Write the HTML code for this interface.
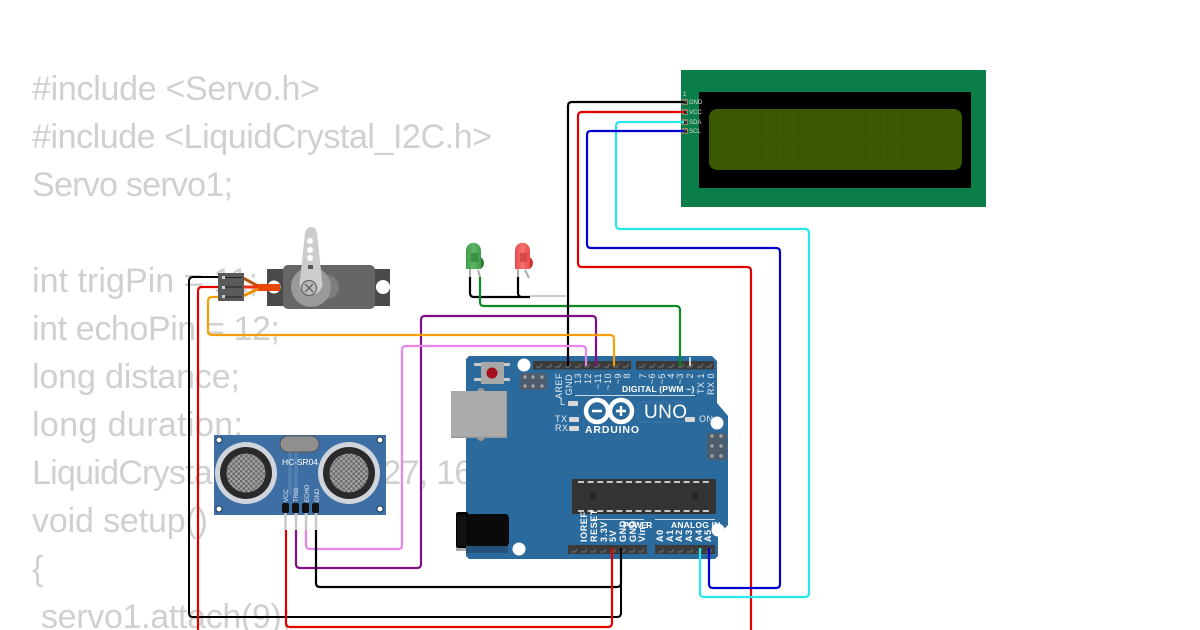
<!DOCTYPE html>
<html><head><meta charset="utf-8"><style>
html,body{margin:0;padding:0;background:#fff;width:1200px;height:630px;overflow:hidden}
svg{display:block}
.c{font-family:"Liberation Sans",sans-serif;font-size:34px;fill:#d0d0d0}
.w{fill:none;stroke-width:2.2;stroke-linejoin:round}
.l{font-family:"Liberation Sans",sans-serif;font-size:9px;fill:#e6edf3;letter-spacing:.5px}
.t{font-family:"Liberation Sans",sans-serif;font-size:9px;fill:#e6edf3;letter-spacing:.5px;text-anchor:end}
.u{font-family:"Liberation Sans",sans-serif;font-size:9px;font-weight:bold;fill:#fff;letter-spacing:.6px}
.b{font-family:"Liberation Sans",sans-serif;font-size:8.5px;font-weight:bold;fill:#fff;letter-spacing:.7px}
.p{font-family:"Liberation Sans",sans-serif;font-size:6px;fill:#ddd}
.s{font-family:"Liberation Sans",sans-serif;font-size:6px;fill:#eee}
</style></head><body>
<svg width="1200" height="630" viewBox="0 0 1200 630" xmlns="http://www.w3.org/2000/svg">
<defs>
<pattern id="m" width="5" height="5" patternUnits="userSpaceOnUse"><rect width="5" height="5" fill="#a2a2a2"/><rect width="2.500" height="2.500" fill="#6c6c6c"/><rect x="2.500" y="2.500" width="2.500" height="2.500" fill="#6c6c6c"/></pattern>
<linearGradient id="g" x1="0" x2="1" y1="0" y2="0"><stop offset="0" stop-color="#3f9b4a"/><stop offset=".5" stop-color="#5cb566"/><stop offset="1" stop-color="#3f9b4a"/></linearGradient>
<linearGradient id="r" x1="0" x2="1" y1="0" y2="0"><stop offset="0" stop-color="#e94a4a"/><stop offset=".5" stop-color="#f47272"/><stop offset="1" stop-color="#e94a4a"/></linearGradient>
</defs>
<!-- code -->
<text class="c" x="32" y="100" textLength="288">#include &lt;Servo.h&gt;</text>
<text class="c" x="32" y="148" textLength="460">#include &lt;LiquidCrystal_I2C.h&gt;</text>
<text class="c" x="32" y="196" textLength="201">Servo servo1;</text>
<text class="c" x="32" y="292" textLength="226">int trigPin = 11;</text>
<text class="c" x="32" y="340" textLength="248">int echoPin = 12;</text>
<text class="c" x="32" y="388" textLength="208">long distance;</text>
<text class="c" x="32" y="436" textLength="211">long duration;</text>
<text class="c" x="32" y="484" textLength="496">LiquidCrystal_I2C lcd(0x27, 16, 2);</text>
<text class="c" x="32" y="532" textLength="176">void setup()</text>
<text class="c" x="32" y="580">{</text>
<text class="c" x="41" y="628" textLength="250">servo1.attach(9);</text>

<!-- LCD -->
<rect x="681" y="70" width="305" height="137" fill="#0a7d48"/>
<rect x="699" y="92" width="272" height="96" fill="#000"/>
<rect x="709" y="109" width="253" height="61" rx="8" fill="#395800"/>
<g stroke="#406304" stroke-width=".8" fill="none">
<path d="M728 112V167M741 112V167M754 112V167M767 112V167M780 112V167M793 112V167M806 112V167M819 112V167M832 112V167M845 112V167M858 112V167M871 112V167M884 112V167M897 112V167M910 112V167M923 112V167M936 112V167M728 140H945"/>
</g>
<g fill="#8a8a6a"><rect x="682" y="99" width="6" height="6"/><rect x="682" y="109" width="6" height="6"/><rect x="682" y="119" width="6" height="6"/><rect x="682" y="128" width="6" height="6"/></g>
<text class="p" x="683" y="96">1</text>
<text class="p" x="689" y="104">GND</text>
<text class="p" x="689" y="114">VCC</text>
<text class="p" x="689" y="124">SDA</text>
<text class="p" x="689" y="133">SCL</text>

<!-- Arduino -->
<path d="M469 356H712L717 361V403L728 416V525L718 535V556L715 559H469L466 556V359Z" fill="#2b6a9d"/>
<circle cx="524" cy="365" r="6.500" fill="#fff"/>
<circle cx="717" cy="423" r="6.500" fill="#fff"/>
<circle cx="718" cy="530" r="6.500" fill="#fff"/>
<circle cx="519" cy="549" r="6.500" fill="#fff"/>
<!-- reset -->
<g fill="#c9c9c9"><rect x="474" y="363" width="36" height="3"/><rect x="474" y="378" width="36" height="3"/></g>
<rect x="481" y="362" width="23" height="22" fill="#a8a8a8"/>
<circle cx="492" cy="373" r="5.500" fill="#a3101c"/>
<!-- ICSP -->
<rect x="520" y="373" width="27" height="17" rx="2" fill="#4d5d6e"/>
<g fill="#a5a5a5"><circle cx="525" cy="377" r="1.700"/><circle cx="533" cy="377" r="1.700"/><circle cx="542" cy="377" r="1.700"/><circle cx="525" cy="386" r="1.700"/><circle cx="533" cy="386" r="1.700"/><circle cx="542" cy="386" r="1.700"/></g>
<rect x="707" y="433" width="20" height="27" rx="2" fill="#4d5d6e"/>
<g fill="#a5a5a5"><circle cx="712" cy="436" r="1.700"/><circle cx="721" cy="436" r="1.700"/><circle cx="712" cy="446" r="1.700"/><circle cx="721" cy="446" r="1.700"/><circle cx="712" cy="456" r="1.700"/><circle cx="721" cy="456" r="1.700"/></g>
<!-- USB -->
<circle cx="481" cy="392" r="4" fill="#999"/><circle cx="481" cy="437" r="4" fill="#999"/>
<rect x="451" y="391" width="56" height="47" fill="#999"/>
<rect x="451" y="391" width="55" height="45.500" fill="#ababab"/>
<!-- headers -->
<g fill="#3b3b3b">
<rect x="533" y="361" width="98" height="8.500"/><rect x="636" y="361" width="78" height="8.500"/>
<rect x="568" y="545" width="79" height="9"/><rect x="655" y="545" width="60" height="9"/>
</g>
<g stroke="#6a6a6a" stroke-width="1.200" fill="none">
<path d="M536 367h4l2-3M546 367h4l2-3M555 367h4l2-3M565 367h4l2-3M575 367h4l2-3M584 367h4l2-3M594 367h4l2-3M604 367h4l2-3M613 367h4l2-3M623 367h4l2-3"/>
<path d="M639 367h4l2-3M649 367h4l2-3M658 367h4l2-3M668 367h4l2-3M678 367h4l2-3M687 367h4l2-3M697 367h4l2-3M706 367h4l2-3"/>
<path d="M571 552h4l2-3M581 552h4l2-3M590 552h4l2-3M600 552h4l2-3M610 552h4l2-3M619 552h4l2-3M629 552h4l2-3M638 552h4l2-3"/>
<path d="M658 552h4l2-3M668 552h4l2-3M677 552h4l2-3M687 552h4l2-3M696 552h4l2-3M706 552h4l2-3"/>
</g>
<!-- top labels -->
<text class="t" transform="translate(562,373) rotate(-90)">AREF</text>
<text class="t" transform="translate(572,374) rotate(-90)">GND</text>
<text class="t" transform="translate(581,373) rotate(-90)">13</text>
<text class="t" transform="translate(591,373) rotate(-90)">12</text>
<text class="t" transform="translate(601,373) rotate(-90)">~11</text>
<text class="t" transform="translate(611,373) rotate(-90)">~10</text>
<text class="t" transform="translate(621,373) rotate(-90)">~9</text>
<text class="t" transform="translate(630,373) rotate(-90)">8</text>
<text class="t" transform="translate(646,373) rotate(-90)">7</text>
<text class="t" transform="translate(655,373) rotate(-90)">~6</text>
<text class="t" transform="translate(665,373) rotate(-90)">~5</text>
<text class="t" transform="translate(674,373) rotate(-90)">4</text>
<text class="t" transform="translate(683,373) rotate(-90)">~3</text>
<text class="t" transform="translate(693,373) rotate(-90)">2</text>
<text class="t" transform="translate(704,373) rotate(-90)">TX 1</text>
<text class="t" transform="translate(714,373) rotate(-90)">RX 0</text>
<text class="b" x="622" y="392" textLength="73">DIGITAL (PWM ~)</text>
<path d="M575 395.500H695" stroke="#fff" stroke-width=".8"/>
<!-- LEDs on board -->
<g fill="#d8d8d8"><rect x="568" y="401" width="10" height="5" rx="1"/><rect x="569" y="417" width="10" height="5" rx="1"/><rect x="569" y="426" width="10" height="5" rx="1"/><rect x="685" y="417" width="10" height="5" rx="1"/></g>
<text class="l" x="560" y="405">L</text>
<text class="l" x="555" y="422">TX</text>
<text class="l" x="555" y="431">RX</text>
<text class="l" x="699" y="422">ON</text>
<!-- logo -->
<g fill="none" stroke="#fff" stroke-width="4.500"><circle cx="597" cy="411" r="11"/><circle cx="621" cy="411" r="11"/></g>
<path d="M592 411h10M616 411h10M621 406v10" stroke="#fff" stroke-width="2.400"/>
<text x="585" y="433" font-family="Liberation Sans,sans-serif" font-weight="bold" font-size="10.500" fill="#fff" textLength="54">ARDUINO</text>
<rect x="638" y="402" width="46" height="20" rx="3" fill="none" stroke="#4a85b3" stroke-width=".7" stroke-dasharray="2 1"/>
<text x="644" y="418" font-family="Liberation Sans,sans-serif" font-size="19" fill="#fff" textLength="43">UNO</text>
<!-- chip -->
<rect x="572" y="479" width="144" height="35" rx="1" fill="#333"/>
<path d="M578 482H712M578 511H712" stroke="#ddd" stroke-width="1.800" stroke-dasharray="6 3.600"/>
<circle cx="593" cy="496" r="3.500" fill="#252525"/><circle cx="695" cy="496" r="3.500" fill="#252525"/>
<!-- bottom labels -->
<text class="u" transform="translate(587,542) rotate(-90)">IOREF</text>
<text class="u" transform="translate(597,542) rotate(-90)">RESET</text>
<text class="u" transform="translate(607,542) rotate(-90)">3.3V</text>
<text class="u" transform="translate(616,542) rotate(-90)">5V</text>
<text class="u" transform="translate(626,542) rotate(-90)">GND</text>
<text class="u" transform="translate(636,542) rotate(-90)">GND</text>
<text class="u" transform="translate(645,542) rotate(-90)">Vin</text>
<text class="u" transform="translate(663,542) rotate(-90)">A0</text>
<text class="u" transform="translate(673,542) rotate(-90)">A1</text>
<text class="u" transform="translate(682,542) rotate(-90)">A2</text>
<text class="u" transform="translate(692,542) rotate(-90)">A3</text>
<text class="u" transform="translate(702,542) rotate(-90)">A4</text>
<text class="u" transform="translate(711,542) rotate(-90)">A5</text>
<text class="b" x="623" y="528" textLength="30">POWER</text>
<text class="b" x="671" y="528" textLength="50">ANALOG IN</text>
<path d="M592 519.500H644M655 519.500H715" stroke="#fff" stroke-width=".8"/>
<!-- jack -->
<rect x="456" y="512" width="12" height="36" rx="2" fill="#000"/>
<rect x="456" y="548" width="10" height="3" fill="#aaa"/>
<rect x="466" y="546" width="42" height="7" fill="#24527a"/>
<rect x="457" y="515" width="51" height="31" fill="#111"/>
<rect x="466" y="514" width="43" height="32" rx="4" fill="#0a0a0a"/>

<!-- Sensor -->
<rect x="214" y="435" width="172" height="80" fill="#3d6fa5"/>
<circle cx="219" cy="440" r="3" fill="#fff" stroke="#22344f" stroke-width="1"/>
<circle cx="380" cy="440" r="3" fill="#fff" stroke="#22344f" stroke-width="1"/>
<circle cx="219" cy="509" r="3" fill="#fff" stroke="#22344f" stroke-width="1"/>
<circle cx="380" cy="509" r="3" fill="#fff" stroke="#22344f" stroke-width="1"/>
<path d="M290 450V495M296 450V495" stroke="#4f7fb0" stroke-width="4"/>
<circle cx="246" cy="473" r="31" fill="#cfd5da"/><circle cx="246" cy="473" r="26" fill="#2a2a2a"/><circle cx="246" cy="473" r="19.500" fill="url(#m)"/>
<circle cx="349" cy="473" r="31" fill="#cfd5da"/><circle cx="349" cy="473" r="26" fill="#2a2a2a"/><circle cx="349" cy="473" r="19.500" fill="url(#m)"/>
<rect x="280" y="436" width="39" height="16" rx="8" fill="#8f8f8f" stroke="#555" stroke-width="1"/>
<text x="282" y="465" font-family="Liberation Sans,sans-serif" font-size="8.500" fill="#fff" textLength="36">HC-SR04</text>
<text class="s" transform="translate(288,502) rotate(-90)">VCC</text>
<text class="s" transform="translate(298,502) rotate(-90)">TRIG</text>
<text class="s" transform="translate(309,502) rotate(-90)">ECHO</text>
<text class="s" transform="translate(319,502) rotate(-90)">GND</text>
<g fill="#111"><rect x="282" y="503" width="7" height="10" rx="2"/><rect x="292" y="503" width="7" height="10" rx="2"/><rect x="302" y="503" width="7" height="10" rx="2"/><rect x="312" y="503" width="7" height="10" rx="2"/></g>
<path d="M285.500 513V530M296 513V530M306 513V530M316 513V530" stroke="#c9c9c9" stroke-width="2.500"/>

<!-- Servo -->
<rect x="267" y="269" width="123" height="37" fill="#4a4a4a"/>
<circle cx="274" cy="287" r="6.500" fill="#fff"/><circle cx="383" cy="287" r="7" fill="#fff"/>
<rect x="283" y="265" width="92" height="44" rx="5" fill="#666"/>
<circle cx="327" cy="287" r="12" fill="#7d7d7d"/>
<circle cx="311" cy="287" r="20" fill="#9a9a9a"/>
<path d="M305 233C306 225 316 225 317 233L322 280A11.500 11.500 0 1 1 300 280Z" fill="#cdcdcd"/>
<g fill="#fff"><circle cx="310" cy="241" r="3"/><circle cx="310" cy="250" r="3"/><circle cx="310" cy="258" r="3"/></g>
<rect x="308" y="265" width="5" height="4" fill="#555"/>
<circle cx="309" cy="288" r="7.500" fill="#bbb" stroke="#666" stroke-width="1.200"/>
<path d="M305 284L313 292M313 284L305 292" stroke="#666" stroke-width="1.500"/>
<path d="M243 278L258 286H280" fill="none" stroke="#b8560a" stroke-width="3"/>
<path d="M243 287H280" stroke="#f03010" stroke-width="3"/>
<path d="M243 296L258 289H280" fill="none" stroke="#f09000" stroke-width="3"/>
<rect x="258" y="284" width="22" height="7" fill="#e84a05"/>
<rect x="218" y="273" width="26" height="28" fill="#5a5a5a"/>
<g stroke="#222" stroke-width="1"><path d="M223 277.500H242M223 287H242M223 297H242"/></g>
<g fill="#c9d2da"><rect x="222" y="276" width="3" height="3"/><rect x="222" y="286" width="3" height="3"/><rect x="222" y="295" width="3" height="3"/></g>

<!-- LEDs -->
<path d="M470 268V277M478 270L480 277" stroke="#aaa" stroke-width="2" fill="none"/>
<path d="M518 268V277M525 270L529 278" stroke="#aaa" stroke-width="2" fill="none"/>
<ellipse cx="479" cy="263" rx="5" ry="6" fill="#2b7a30"/>
<path d="M466 251C466 240 481 240 481 251V269H466Z" fill="url(#g)"/>
<rect x="471" y="253" width="7" height="9" fill="#2f8439" opacity=".7"/>
<ellipse cx="528" cy="263" rx="5" ry="6" fill="#c93030"/>
<path d="M515 251C515 240 530 240 530 251V269H515Z" fill="url(#r)"/>
<rect x="520" y="253" width="7" height="9" fill="#c93c3c" opacity=".7"/>

<!-- wires -->
<path d="M530 296H566" stroke="#999" stroke-width="1" fill="none"/>
<path class="w" stroke="#000" d="M470 277V293Q470 297 474 297H530M518 277V293Q518 297 522 297"/>
<path class="w" stroke="#0d8a1f" d="M480 277V302Q480 306 484 306H676Q680 306 680 310V366"/>
<path class="w" stroke="#000" d="M686 102H572Q568 102 568 106V366"/>
<path class="w" stroke="#e00000" d="M686 112H582Q578 112 578 116V263Q578 267 582 267H747Q751 267 751 271V630"/>
<path class="w" stroke="#27e6ee" d="M686 122H620Q616 122 616 126V225Q616 229 620 229H805Q809 229 809 233V593Q809 597 805 597H704Q700 597 700 593V548"/>
<path class="w" stroke="#0000d0" d="M686 131H591Q587 131 587 135V244Q587 248 591 248H776Q780 248 780 252V584Q780 588 776 588H713Q709 588 709 584V548"/>
<path class="w" stroke="#7f0f88" d="M296 530V564Q296 568 300 568H417Q421 568 421 564V320Q421 316 425 316H592Q596 316 596 320V366"/>
<path class="w" stroke="#e884ec" d="M306 530V545Q306 549 310 549H398Q402 549 402 545V350Q402 346 406 346H582Q586 346 586 350V366"/>
<path class="w" stroke="#f5a000" d="M218 297H212Q208 297 208 301V331Q208 335 212 335H610Q614 335 614 339V366"/>
<path class="w" stroke="#000" d="M218 277H193Q189 277 189 281V613Q189 617 193 617H617Q621 617 621 613V548" style="stroke-width:2"/>
<path class="w" stroke="#e00000" d="M218 287H202Q198 287 198 291V630"/>
<path class="w" stroke="#000" d="M316 530V583Q316 587 320 587H617Q621 587 621 583V548"/>
<path class="w" stroke="#e00000" d="M286 530V623Q286 627 290 627H608Q612 627 612 623V548"/>
<path d="M690 366V357" stroke="#fff" stroke-width="1.500"/>
<rect x="684" y="101" width="3" height="3" fill="#333"/><rect x="684" y="111" width="3" height="3" fill="#333"/><rect x="684" y="121" width="3" height="3" fill="#333"/><rect x="684" y="130" width="3" height="3" fill="#333"/>
</svg>
</body></html>
